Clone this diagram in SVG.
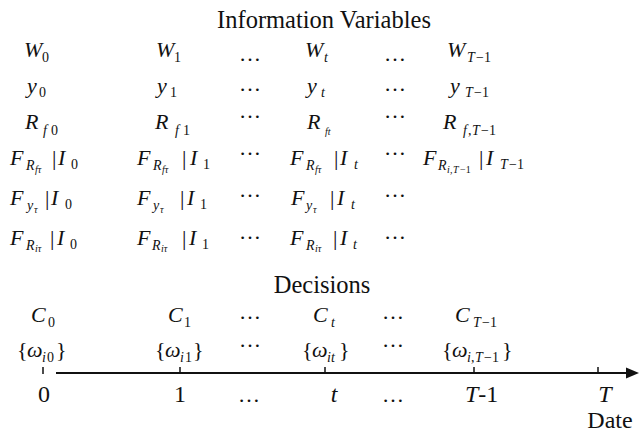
<svg xmlns="http://www.w3.org/2000/svg" width="639" height="434" viewBox="0 0 639 434" font-family="'Liberation Serif', serif">
<style>
text{font-family:"Liberation Serif","Times New Roman",serif;fill:#111}
.t{font-size:24.5px}
.m{font-size:22px;font-style:italic}
.n{font-size:24px}
.u{font-style:normal}
.s{font-size:14px}
.ss{font-size:10px}
.d{font-size:22px}
</style>
<rect width="639" height="434" fill="#fff"/>
<g id="title"><text class="t" x="324" y="28" text-anchor="middle">Information Variables</text></g>
<g id="row-W">
<text class="m" y="57"><tspan x="24">W</tspan><tspan class="s u" x="42" y="62">0</tspan></text>
<text class="m" y="57"><tspan x="156">W</tspan><tspan class="s u" x="174" y="62">1</tspan></text>
<text class="m" y="57"><tspan x="305">W</tspan><tspan class="s" x="324" y="62">t</tspan></text>
<text class="m" y="57"><tspan x="447">W</tspan><tspan class="s" x="467" y="62">T</tspan><tspan class="s u" x="476" y="62">−1</tspan></text>
<text class="d" x="250" y="61" text-anchor="middle">…</text>
<text class="d" x="395" y="61" text-anchor="middle">…</text>
</g>
<g id="row-y">
<text class="m" y="93"><tspan x="27">y</tspan><tspan class="s u" x="39" y="97">0</tspan></text>
<text class="m" y="93"><tspan x="157">y</tspan><tspan class="s u" x="170" y="97">1</tspan></text>
<text class="m" y="93"><tspan x="307">y</tspan><tspan class="s" x="321" y="97">t</tspan></text>
<text class="m" y="93"><tspan x="450">y</tspan><tspan class="s" x="465" y="97">T</tspan><tspan class="s u" x="474" y="97">−1</tspan></text>
<text class="d" x="250" y="91" text-anchor="middle">…</text>
<text class="d" x="395" y="91" text-anchor="middle">…</text>
</g>
<g id="row-R">
<text class="m" y="129"><tspan x="25">R</tspan><tspan class="s" x="43" y="135">f</tspan><tspan class="s u" x="51" y="135">0</tspan></text>
<text class="m" y="129"><tspan x="155">R</tspan><tspan class="s" x="175" y="135">f</tspan><tspan class="s u" x="183" y="135">1</tspan></text>
<text class="m" y="129"><tspan x="307">R</tspan><tspan class="ss" x="325" y="135">ft</tspan></text>
<text class="m" y="129"><tspan x="443">R</tspan><tspan class="s" x="463" y="135">f</tspan><tspan class="s u" x="468" y="135">,</tspan><tspan class="s" x="472" y="135">T</tspan><tspan class="s u" x="481" y="135">−1</tspan></text>
<text class="d" x="250" y="118" text-anchor="middle">…</text>
<text class="d" x="395" y="118" text-anchor="middle">…</text>
</g>
<g id="row-F-Rf">
<text class="m" y="165"><tspan x="10">F</tspan><tspan class="s" x="26" y="170">R</tspan><tspan class="ss" x="35" y="173">fτ</tspan><tspan class="u" x="52" y="165">|</tspan><tspan x="58" y="165">I</tspan><tspan class="s u" x="71" y="169">0</tspan></text>
<text class="m" y="165"><tspan x="137">F</tspan><tspan class="s" x="153" y="170">R</tspan><tspan class="ss" x="162" y="173">fτ</tspan><tspan class="u" x="182" y="165">|</tspan><tspan x="190" y="165">I</tspan><tspan class="s u" x="203" y="169">1</tspan></text>
<text class="m" y="165"><tspan x="290">F</tspan><tspan class="s" x="306" y="170">R</tspan><tspan class="ss" x="315" y="173">fτ</tspan><tspan class="u" x="334" y="165">|</tspan><tspan x="340" y="165">I</tspan><tspan class="s" x="354" y="169">t</tspan></text>
<text class="m" y="165"><tspan x="423">F</tspan><tspan class="s" x="438" y="170">R</tspan><tspan class="ss" x="447" y="173">i</tspan><tspan class="ss u" x="450" y="173">,</tspan><tspan class="ss" x="453" y="173">T</tspan><tspan class="ss u" x="460" y="173">−1</tspan><tspan class="u" x="479" y="165">|</tspan><tspan x="486" y="165">I</tspan><tspan class="s" x="500" y="169">T</tspan><tspan class="s u" x="509" y="169">−1</tspan></text>
<text class="d" x="250" y="155" text-anchor="middle">…</text>
<text class="d" x="395" y="155" text-anchor="middle">…</text>
</g>
<g id="row-F-y">
<text class="m" y="205"><tspan x="10">F</tspan><tspan class="s" x="27" y="210">y</tspan><tspan class="ss" x="34" y="213">τ</tspan><tspan class="u" x="45" y="205">|</tspan><tspan x="51" y="205">I</tspan><tspan class="s u" x="65" y="209">0</tspan></text>
<text class="m" y="205"><tspan x="137">F</tspan><tspan class="s" x="153" y="210">y</tspan><tspan class="ss" x="160" y="213">τ</tspan><tspan class="u" x="180" y="205">|</tspan><tspan x="187" y="205">I</tspan><tspan class="s u" x="200" y="209">1</tspan></text>
<text class="m" y="205"><tspan x="291">F</tspan><tspan class="s" x="306" y="210">y</tspan><tspan class="ss" x="313" y="213">τ</tspan><tspan class="u" x="330" y="205">|</tspan><tspan x="337" y="205">I</tspan><tspan class="s" x="351" y="209">t</tspan></text>
<text class="d" x="250" y="197" text-anchor="middle">…</text>
<text class="d" x="395" y="197" text-anchor="middle">…</text>
</g>
<g id="row-F-Ri">
<text class="m" y="245"><tspan x="10">F</tspan><tspan class="s" x="26" y="250">R</tspan><tspan class="ss" x="35" y="252">iτ</tspan><tspan class="u" x="50" y="245">|</tspan><tspan x="57" y="245">I</tspan><tspan class="s u" x="70" y="249">0</tspan></text>
<text class="m" y="245"><tspan x="137">F</tspan><tspan class="s" x="152" y="250">R</tspan><tspan class="ss" x="161" y="252">iτ</tspan><tspan class="u" x="182" y="245">|</tspan><tspan x="189" y="245">I</tspan><tspan class="s u" x="202" y="249">1</tspan></text>
<text class="m" y="245"><tspan x="290">F</tspan><tspan class="s" x="306" y="250">R</tspan><tspan class="ss" x="315" y="252">iτ</tspan><tspan class="u" x="333" y="245">|</tspan><tspan x="340" y="245">I</tspan><tspan class="s" x="353" y="249">t</tspan></text>
<text class="d" x="250" y="239" text-anchor="middle">…</text>
<text class="d" x="395" y="239" text-anchor="middle">…</text>
</g>
<g id="decisions"><text class="t" x="322" y="293" text-anchor="middle">Decisions</text></g>
<g id="row-C">
<text class="m" y="322"><tspan x="31">C</tspan><tspan class="s u" x="48" y="327">0</tspan></text>
<text class="m" y="322"><tspan x="168">C</tspan><tspan class="s u" x="184" y="327">1</tspan></text>
<text class="m" y="322"><tspan x="313">C</tspan><tspan class="s" x="331" y="327">t</tspan></text>
<text class="m" y="322"><tspan x="455">C</tspan><tspan class="s" x="473" y="327">T</tspan><tspan class="s u" x="482" y="327">−1</tspan></text>
<text class="d" x="250" y="319" text-anchor="middle">…</text>
<text class="d" x="393" y="319" text-anchor="middle">…</text>
</g>
<g id="row-omega">
<text class="m" y="357"><tspan class="u" x="17">{</tspan><tspan x="27">ω</tspan><tspan class="s" x="42" y="362">i</tspan><tspan class="s u" x="47" y="362">0</tspan><tspan class="u" x="56" y="357">}</tspan></text>
<text class="m" y="357"><tspan class="u" x="155">{</tspan><tspan x="165">ω</tspan><tspan class="s" x="180" y="362">i</tspan><tspan class="s u" x="185" y="362">1</tspan><tspan class="u" x="193" y="357">}</tspan></text>
<text class="m" y="357"><tspan class="u" x="302">{</tspan><tspan x="312">ω</tspan><tspan class="s" x="327" y="362">it</tspan><tspan class="u" x="339" y="357">}</tspan></text>
<text class="m" y="357"><tspan class="u" x="442">{</tspan><tspan x="452">ω</tspan><tspan class="s" x="467" y="362">i</tspan><tspan class="s u" x="471" y="362">,</tspan><tspan class="s" x="475" y="362">T</tspan><tspan class="s u" x="484" y="362">−1</tspan><tspan class="u" x="502" y="357">}</tspan></text>
<text class="d" x="250" y="347" text-anchor="middle">…</text>
<text class="d" x="393" y="347" text-anchor="middle">…</text>
</g>
<g id="connectors">
<line x1="56" y1="373" x2="628" y2="373" stroke="#111" stroke-width="2"/>
<polygon points="639,373 626,367.5 626,378.5" fill="#111"/>
<path d="M43 367V374M180 367V373M325 367V373M474 367V373M598 367V373" stroke="#111" stroke-width="1.5" fill="none"/>
</g>
<g id="axis-labels">
<text class="n" x="44" y="402" text-anchor="middle">0</text>
<text class="n" x="180" y="402" text-anchor="middle">1</text>
<text class="d" x="249" y="402" text-anchor="middle">…</text>
<text class="n" x="334" y="402" text-anchor="middle" font-style="italic">t</text>
<text class="d" x="393" y="402" text-anchor="middle">…</text>
<text class="n" x="465" y="402"><tspan font-style="italic">T</tspan>-1</text>
<text class="n" x="605" y="402" text-anchor="middle" font-style="italic">T</text>
<text class="n" x="610" y="428" text-anchor="middle" font-size="23px">Date</text>
</g>
</svg>
